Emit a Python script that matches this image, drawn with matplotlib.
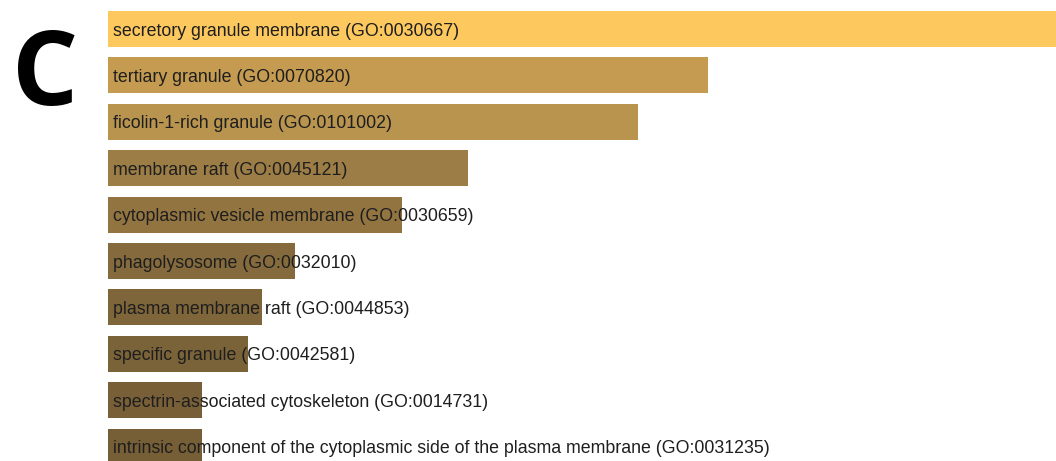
import matplotlib.pyplot as plt

terms = [
    'secretory granule membrane (GO:0030667)',
    'tertiary granule (GO:0070820)',
    'ficolin-1-rich granule (GO:0101002)',
    'membrane raft (GO:0045121)',
    'cytoplasmic vesicle membrane (GO:0030659)',
    'phagolysosome (GO:0032010)',
    'plasma membrane raft (GO:0044853)',
    'specific granule (GO:0042581)',
    'spectrin-associated cytoskeleton (GO:0014731)',
    'intrinsic component of the cytoplasmic side of the plasma membrane (GO:0031235)',
]
# bar lengths (relative score)
scores = [948, 600, 530, 360, 294, 187, 154, 140, 94, 94]
colors = ['#fdc95f', '#c49b50', '#b8944f', '#9c7d45', '#927441',
          '#846a3c', '#7e653a', '#7b6339', '#785f37', '#765e36']

W, H = 1056, 461
fig = plt.figure(figsize=(W / 100, H / 100), dpi=100)
ax = fig.add_axes([108 / W, 0, 1 - 108 / W, 1])

ypos = list(range(len(terms)))
ax.barh(ypos, scores, height=0.78, color=colors, edgecolor='none')
for y, t in zip(ypos, terms):
    ax.annotate(t, (0, y), xytext=(5, -2), textcoords='offset pixels',
                va='center', ha='left', fontsize=12.8, color='#1e1e1e',
                family=['Liberation Sans', 'DejaVu Sans'], annotation_clip=False)

ax.set_xlim(0, max(scores))
ax.set_ylim((H - 29) / 46.4, -29 / 46.4)
ax.axis('off')

fig.text(45 / W, 1 - 66 / H, 'C', fontsize=75, fontweight='bold',
         family=['Open Sans', 'DejaVu Sans'], ha='center', va='center_baseline')

fig.savefig('out.png', dpi=100)
